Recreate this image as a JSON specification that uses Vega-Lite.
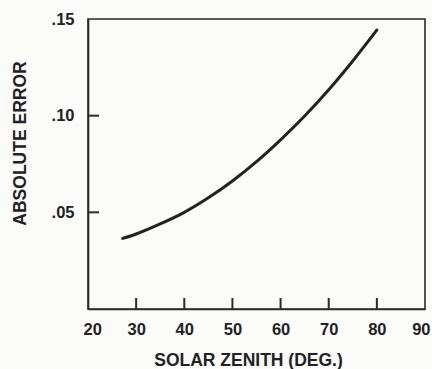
{
  "$schema": "https://vega.github.io/schema/vega-lite/v6.json",
  "width": 337,
  "height": 290,
  "autosize": {"type": "none"},
  "padding": {"left": 88, "top": 19, "right": 7, "bottom": 60},
  "background": "#fbfbfa",
  "config": {
    "view": {"stroke": "#2a2a2a", "strokeWidth": 1.6},
    "font": "Liberation Sans",
    "axis": {
      "domainColor": "#2a2a2a",
      "domainWidth": 1.6,
      "ticks": false,
      "grid": false,
      "labelFont": "Liberation Sans",
      "labelFontWeight": "bold",
      "labelColor": "#222222",
      "labelFontSize": 16.5,
      "titleFont": "Liberation Sans",
      "titleFontWeight": "bold",
      "titleColor": "#222222",
      "titleFontSize": 17.5
    }
  },
  "datasets": {
    "curve": [
      {"zenith": 27.2, "error": 0.0365},
      {"zenith": 30, "error": 0.0388},
      {"zenith": 35, "error": 0.0440},
      {"zenith": 40, "error": 0.0500},
      {"zenith": 45, "error": 0.0575},
      {"zenith": 50, "error": 0.0662},
      {"zenith": 55, "error": 0.0762},
      {"zenith": 60, "error": 0.0875},
      {"zenith": 65, "error": 0.0998},
      {"zenith": 70, "error": 0.1134},
      {"zenith": 75, "error": 0.1283},
      {"zenith": 80, "error": 0.1443}
    ],
    "xticks": [
      {"zenith": 30, "error": 0}, {"zenith": 40, "error": 0}, {"zenith": 50, "error": 0}, {"zenith": 60, "error": 0}, {"zenith": 70, "error": 0}, {"zenith": 80, "error": 0}
    ],
    "yticks": [
      {"zenith": 20, "error": 0.05}, {"zenith": 20, "error": 0.1}
    ]
  },
  "encoding": {
    "x": {
      "field": "zenith",
      "type": "quantitative",
      "title": "SOLAR ZENITH (DEG.)",
      "scale": {"domain": [20, 90], "nice": false},
      "axis": {
        "values": [20, 30, 40, 50, 60, 70, 80, 90],
        "labelPadding": 12,
        "titlePadding": 14,
        "titleX": 160,
        "labelFlush": true,
        "labelFlushOffset": 5
      }
    },
    "y": {
      "field": "error",
      "type": "quantitative",
      "title": "ABSOLUTE ERROR",
      "scale": {"domain": [0, 0.15], "nice": false},
      "axis": {
        "values": [0.05, 0.1, 0.15],
        "labelExpr": "substring(format(datum.value, '.2f'), 1)",
        "labelPadding": 14,
        "titlePadding": 22,
        "titleY": 124
      }
    }
  },
  "layer": [
    {
      "data": {"name": "curve"},
      "mark": {"type": "line", "color": "#222222", "strokeWidth": 3, "interpolate": "monotone", "strokeCap": "round"}
    },
    {
      "data": {"name": "xticks"},
      "mark": {"type": "tick", "color": "#2a2a2a", "orient": "vertical", "thickness": 2, "size": 11, "opacity": 1, "yOffset": -5.5}
    },
    {
      "data": {"name": "yticks"},
      "mark": {"type": "tick", "color": "#2a2a2a", "orient": "horizontal", "thickness": 2, "size": 11, "opacity": 1, "xOffset": 5.5}
    }
  ]
}
